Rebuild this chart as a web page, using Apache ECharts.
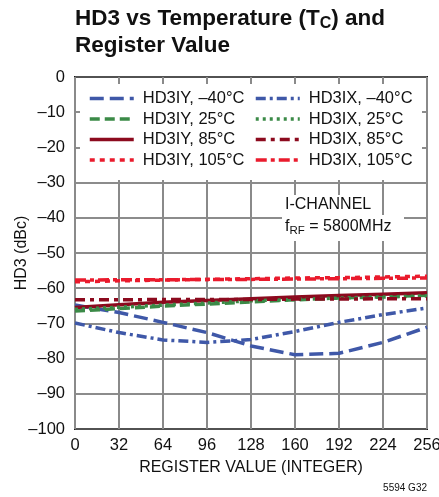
<!DOCTYPE html>
<html>
<head>
<meta charset="utf-8">
<script src="https://cdn.jsdelivr.net/npm/echarts@6/dist/echarts.min.js"></script>
<style>
html,body{margin:0;padding:0;background:#fff;}
#c{width:439px;height:497px;}
</style>
</head>
<body>
<div id="c"></div>
<script>
const registerValues = [0, 32, 64, 96, 128, 160, 192, 224, 256];
const hd3iyM40 = [-64.8, -66.9, -69.7, -72.6, -76.4, -78.9, -78.5, -75.4, -71.1];
const hd3ixM40 = [-69.9, -72.6, -74.7, -75.4, -74.6, -72.3, -69.7, -67.5, -65.6];
const hd3iy25 = [-66.5, -65.8, -65.1, -64.5, -63.9, -63.3, -62.8, -62.4, -62.0];
const hd3ix25 = [-66.0, -65.4, -64.8, -64.2, -63.6, -63.2, -62.8, -62.5, -62.2];
const hd3iy85 = [-65.5, -64.7, -64.0, -63.5, -63.0, -62.5, -62.1, -61.7, -61.3];
const hd3ix85 = [-63.3, -63.3, -63.2, -63.2, -63.2, -63.1, -63.1, -63.0, -63.0];
const hd3iy105 = [-58.2, -57.9, -57.7, -57.5, -57.3, -57.1, -57.0, -56.8, -56.6];
const hd3ix105 = [-57.7, -57.6, -57.6, -57.5, -57.5, -57.4, -57.3, -57.2, -57.1];
const xTicks = [0, 32, 64, 96, 128, 160, 192, 224, 256];
const yTicks = [0, -10, -20, -30, -40, -50, -60, -70, -80, -90, -100];

const FONT = "'Liberation Sans', Arial, sans-serif";
const BLUE = '#3f58a8', GREEN = '#3b8a47', DRED = '#8c0a1e', RED = '#ea1b2d';

function pairs(ys) { return registerValues.map((x, i) => [x, ys[i]]); }
function mk(name, ys, color, dash) {
  return {
    name, type: 'line', data: pairs(ys), symbol: 'none', showSymbol: false, smooth: false,
    lineStyle: { color, width: 3.5, type: dash },
    itemStyle: { color }, z: 3
  };
}
const series = [
  mk('HD3IY, \u201340\u00b0C', hd3iyM40, BLUE, [14, 6]),
  mk('HD3IY, 25\u00b0C', hd3iy25, GREEN, [10, 5]),
  mk('HD3IY, 85\u00b0C', hd3iy85, DRED, 'solid'),
  mk('HD3IY, 105\u00b0C', hd3iy105, RED, [5, 5]),
  mk('HD3IX, \u201340\u00b0C', hd3ixM40, BLUE, [10, 4, 3, 4]),
  mk('HD3IX, 25\u00b0C', hd3ix25, GREEN, [3, 4]),
  mk('HD3IX, 85\u00b0C', hd3ix85, DRED, [10, 5, 4, 5]),
  mk('HD3IX, 105\u00b0C', hd3ix105, RED, [11, 4, 4, 4])
];

const legendCommon = {
  orient: 'vertical', itemWidth: 44, itemHeight: 14, itemGap: 3.5, z: 6, padding: 0,
  itemStyle: { opacity: 0 },
  lineStyle: { width: 3.5 },
  textStyle: { fontFamily: FONT, fontSize: 16.5, lineHeight: 17, color: '#111', padding: [0, 0, 0, 4] }
};

const chart = echarts.init(document.getElementById('c'), null, { renderer: 'canvas' });
chart.setOption({
  backgroundColor: '#fff',
  animation: false,
  title: {
    left: 75, top: 5, padding: 0,
    text: '{t|HD3 vs Temperature (T}{s|C}{t|) and}\n{t|Register Value}',
    textStyle: {
      rich: {
        t: { fontFamily: FONT, fontWeight: 'bold', fontSize: 22.5, color: '#111', lineHeight: 27 },
        s: { fontFamily: FONT, fontWeight: 'bold', fontSize: 16, color: '#111', lineHeight: 27, verticalAlign: 'bottom', padding: [8, 0, 0, 0] }
      }
    }
  },
  grid: { left: 75, right: 12, top: 77, bottom: 68, show: true, borderColor: '#1a1a1a', borderWidth: 2,
    backgroundColor: 'transparent', outerBoundsMode: 'none', containLabel: false },
  legend: [
    Object.assign({}, legendCommon, { left: 88, top: 90, data: series.slice(0, 4).map(s => s.name) }),
    Object.assign({}, legendCommon, { left: 254, top: 90, data: series.slice(4).map(s => s.name) })
  ],
  xAxis: {
    type: 'value', min: 0, max: 256, interval: 32,
    name: 'REGISTER VALUE (INTEGER)', nameLocation: 'middle', nameGap: 31, nameMoveOverlap: false,
    nameTextStyle: { fontFamily: FONT, fontSize: 16, color: '#111' },
    axisLine: { show: false }, axisTick: { show: false },
    axisLabel: { fontFamily: FONT, fontSize: 16.5, color: '#111', margin: 8,
      formatter: v => xTicks.includes(v) ? String(v) : '' },
    splitLine: { show: true, lineStyle: { color: '#8a8a8a', width: 2 } }
  },
  yAxis: {
    type: 'value', min: -100, max: 0, interval: 10,
    name: 'HD3 (dBc)', nameLocation: 'middle', nameGap: 45, nameRotate: 90, nameMoveOverlap: false,
    nameTextStyle: { fontFamily: FONT, fontSize: 16, color: '#111' },
    axisLine: { show: false }, axisTick: { show: false },
    axisLabel: { fontFamily: FONT, fontSize: 16.5, color: '#111', margin: 10,
      formatter: v => yTicks.includes(v) ? (v < 0 ? '\u2013' + (-v) : String(v)) : '' },
    splitLine: { show: true, lineStyle: { color: '#666', width: 1.5 } }
  },
  graphic: [
    { type: 'rect', z: 2, shape: { x: 80, y: 84, width: 342, height: 96 }, style: { fill: '#fff' } },
    { type: 'rect', z: 2, shape: { x: 282, y: 195, width: 98, height: 20 }, style: { fill: '#fff' } },
    { type: 'rect', z: 2, shape: { x: 282, y: 215, width: 122, height: 26 }, style: { fill: '#fff' } },
    { type: 'text', z: 4, left: 285, top: 197,
      style: { text: 'I-CHANNEL', fontFamily: FONT, fontSize: 16, fill: '#111' } },
    { type: 'text', z: 4, left: 285, top: 219,
      style: { text: '{a|f}{b|RF}{a| = 5800MHz}', fill: '#111',
        rich: { a: { fontFamily: FONT, fontSize: 16, fill: '#111', lineHeight: 20 },
                b: { fontFamily: FONT, fontSize: 11.5, fill: '#111', lineHeight: 20, verticalAlign: 'bottom', padding: [6, 0, 0, 0] } } } },
    { type: 'text', z: 4, right: 12, top: 483,
      style: { text: '5594 G32', fontFamily: FONT, fontSize: 10, fill: '#111' } }
  ],
  series: series
});
</script>
</body>
</html>
